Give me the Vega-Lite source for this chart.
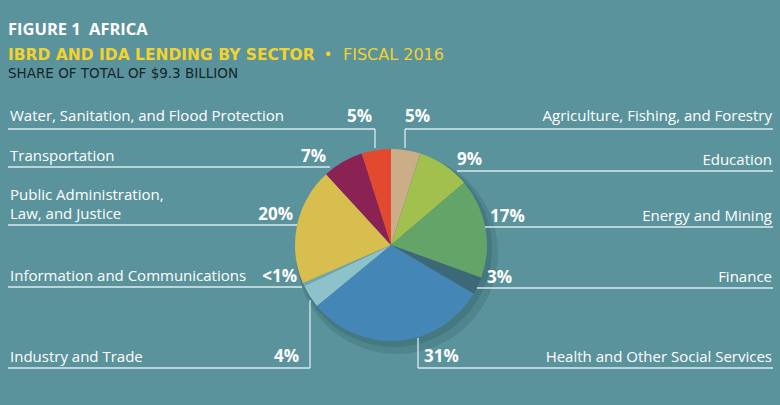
{
  "$schema": "https://vega.github.io/schema/vega-lite/v6.json",
  "width": 780,
  "height": 405,
  "autosize": "none",
  "padding": 0,
  "background": "#5b939c",
  "config": {
    "view": {"stroke": null},
    "axis": {"disable": true},
    "font": "Open Sans",
    "text": {"color": "#ffffff", "baseline": "alphabetic", "font": "Open Sans", "lineBreak": "\n", "lineHeight": 19},
    "rule": {"color": "#d8ebee", "strokeWidth": 1.3}
  },
  "data": {
    "values": [
      {"sector": "Agriculture, Fishing, and Forestry", "share": 5, "pct": "5%"},
      {"sector": "Education", "share": 9, "pct": "9%"},
      {"sector": "Energy and Mining", "share": 17, "pct": "17%"},
      {"sector": "Finance", "share": 3, "pct": "3%"},
      {"sector": "Health and Other Social Services", "share": 31, "pct": "31%"},
      {"sector": "Industry and Trade", "share": 4, "pct": "4%"},
      {"sector": "Information and Communications", "share": 0.5, "pct": "<1%"},
      {"sector": "Public Administration,\nLaw, and Justice", "share": 20, "pct": "20%"},
      {"sector": "Transportation", "share": 7, "pct": "7%"},
      {"sector": "Water, Sanitation, and Flood Protection", "share": 5, "pct": "5%"}
    ]
  },
  "layer": [
    {
      "transform": [{"aggregate": [{"op": "sum", "field": "share", "as": "total"}]}],
      "mark": {"type": "arc", "outerRadius": 101, "color": "#1d4750", "opacity": 0.18, "xOffset": 6, "yOffset": 8},
      "encoding": {
        "x": {"datum": 391, "type": "quantitative", "scale": {"domain": [0, 780], "range": [0, 780], "nice": false, "zero": false}, "axis": null},
        "y": {"datum": 245, "type": "quantitative", "scale": {"domain": [0, 405], "range": [0, 405], "nice": false, "zero": false}, "axis": null}
      }
    },
    {
      "transform": [{"aggregate": [{"op": "sum", "field": "share", "as": "total"}]}],
      "mark": {"type": "arc", "outerRadius": 98, "color": "#1d4750", "opacity": 0.2, "xOffset": 3, "yOffset": 4},
      "encoding": {"x": {"datum": 391}, "y": {"datum": 245}}
    },
    {
      "mark": {"type": "arc", "outerRadius": 96},
      "encoding": {
        "x": {"datum": 391},
        "y": {"datum": 245},
        "theta": {"field": "share", "type": "quantitative"},
        "order": {"field": "sector", "type": "nominal", "sort": "ascending"},
        "color": {
          "field": "sector",
          "type": "nominal",
          "legend": null,
          "scale": {
            "domain": ["Agriculture, Fishing, and Forestry", "Education", "Energy and Mining", "Finance", "Health and Other Social Services", "Industry and Trade", "Information and Communications", "Public Administration,\nLaw, and Justice", "Transportation", "Water, Sanitation, and Flood Protection"],
            "range": ["#cbad88", "#a2c04e", "#63a468", "#3c6877", "#4487b7", "#8ec2ca", "#6fa7b4", "#d8be4e", "#8a2254", "#e3492f"]
          }
        }
      }
    },
    {
      "data": {"values": [{"heading": "FIGURE 1\u2002AFRICA"}]},
      "mark": {"type": "text", "align": "left", "fontSize": 16.5, "fontWeight": "bold"},
      "encoding": {"x": {"datum": 8}, "y": {"datum": 35}, "text": {"field": "heading"}}
    },
    {
      "data": {"values": [{"heading": "IBRD AND IDA LENDING BY SECTOR"}]},
      "mark": {"type": "text", "align": "left", "fontSize": 15.5, "fontWeight": "bold", "font": "DejaVu Sans", "color": "#f2d22e"},
      "encoding": {"x": {"datum": 8}, "y": {"datum": 60}, "text": {"field": "heading"}}
    },
    {
      "data": {"values": [{"heading": "\u2022"}]},
      "mark": {"type": "text", "align": "center", "fontSize": 15, "fontWeight": "bold", "color": "#f2d22e"},
      "encoding": {"x": {"datum": 328}, "y": {"datum": 59}, "text": {"field": "heading"}}
    },
    {
      "data": {"values": [{"heading": "FISCAL 2016"}]},
      "mark": {"type": "text", "align": "left", "fontSize": 16, "font": "DejaVu Sans", "color": "#f2d22e"},
      "encoding": {"x": {"datum": 343}, "y": {"datum": 60}, "text": {"field": "heading"}}
    },
    {
      "data": {"values": [{"heading": "SHARE OF TOTAL OF $9.3 BILLION"}]},
      "mark": {"type": "text", "align": "left", "fontSize": 13.5, "font": "DejaVu Sans", "color": "#13252b"},
      "encoding": {"x": {"datum": 8}, "y": {"datum": 78}, "text": {"field": "heading"}}
    },
    {
      "transform": [{"filter": {"field": "sector", "equal": "Water, Sanitation, and Flood Protection"}}],
      "layer": [
        {"mark": "rule", "encoding": {"x": {"datum": 8}, "x2": {"datum": 375}, "y": {"datum": 129}}},
        {"mark": "rule", "encoding": {"x": {"datum": 375}, "y": {"datum": 129}, "y2": {"datum": 148}}},
        {"mark": {"type": "text", "align": "left", "fontSize": 15}, "encoding": {"x": {"datum": 10}, "y": {"datum": 121}, "text": {"field": "sector"}}},
        {"mark": {"type": "text", "align": "right", "fontSize": 17, "fontWeight": "bold"}, "encoding": {"x": {"datum": 372}, "y": {"datum": 122}, "text": {"field": "pct"}}}
      ]
    },
    {
      "transform": [{"filter": {"field": "sector", "equal": "Transportation"}}],
      "layer": [
        {"mark": "rule", "encoding": {"x": {"datum": 8}, "x2": {"datum": 330}, "y": {"datum": 167}}},
        {"mark": {"type": "text", "align": "left", "fontSize": 15}, "encoding": {"x": {"datum": 10}, "y": {"datum": 161}, "text": {"field": "sector"}}},
        {"mark": {"type": "text", "align": "right", "fontSize": 17, "fontWeight": "bold"}, "encoding": {"x": {"datum": 326}, "y": {"datum": 162}, "text": {"field": "pct"}}}
      ]
    },
    {
      "transform": [{"filter": {"field": "pct", "equal": "20%"}}],
      "layer": [
        {"mark": "rule", "encoding": {"x": {"datum": 8}, "x2": {"datum": 297}, "y": {"datum": 225}}},
        {"mark": {"type": "text", "align": "left", "fontSize": 15}, "encoding": {"x": {"datum": 10}, "y": {"datum": 200}, "text": {"field": "sector"}}},
        {"mark": {"type": "text", "align": "right", "fontSize": 17, "fontWeight": "bold"}, "encoding": {"x": {"datum": 293}, "y": {"datum": 220}, "text": {"field": "pct"}}}
      ]
    },
    {
      "transform": [{"filter": {"field": "sector", "equal": "Information and Communications"}}],
      "layer": [
        {"mark": "rule", "encoding": {"x": {"datum": 8}, "x2": {"datum": 302}, "y": {"datum": 287}}},
        {"mark": {"type": "text", "align": "left", "fontSize": 15}, "encoding": {"x": {"datum": 10}, "y": {"datum": 281}, "text": {"field": "sector"}}},
        {"mark": {"type": "text", "align": "right", "fontSize": 17, "fontWeight": "bold"}, "encoding": {"x": {"datum": 297}, "y": {"datum": 282}, "text": {"field": "pct"}}}
      ]
    },
    {
      "transform": [{"filter": {"field": "sector", "equal": "Industry and Trade"}}],
      "layer": [
        {"mark": "rule", "encoding": {"x": {"datum": 8}, "x2": {"datum": 310}, "y": {"datum": 368}}},
        {"mark": "rule", "encoding": {"x": {"datum": 310}, "y": {"datum": 300}, "y2": {"datum": 368}}},
        {"mark": {"type": "text", "align": "left", "fontSize": 15}, "encoding": {"x": {"datum": 10}, "y": {"datum": 362}, "text": {"field": "sector"}}},
        {"mark": {"type": "text", "align": "right", "fontSize": 17, "fontWeight": "bold"}, "encoding": {"x": {"datum": 299}, "y": {"datum": 362}, "text": {"field": "pct"}}}
      ]
    },
    {
      "transform": [{"filter": {"field": "sector", "equal": "Agriculture, Fishing, and Forestry"}}],
      "layer": [
        {"mark": "rule", "encoding": {"x": {"datum": 405}, "x2": {"datum": 773}, "y": {"datum": 129}}},
        {"mark": "rule", "encoding": {"x": {"datum": 405}, "y": {"datum": 129}, "y2": {"datum": 148}}},
        {"mark": {"type": "text", "align": "right", "fontSize": 15}, "encoding": {"x": {"datum": 772}, "y": {"datum": 121}, "text": {"field": "sector"}}},
        {"mark": {"type": "text", "align": "left", "fontSize": 17, "fontWeight": "bold"}, "encoding": {"x": {"datum": 405}, "y": {"datum": 122}, "text": {"field": "pct"}}}
      ]
    },
    {
      "transform": [{"filter": {"field": "sector", "equal": "Education"}}],
      "layer": [
        {"mark": "rule", "encoding": {"x": {"datum": 457}, "x2": {"datum": 773}, "y": {"datum": 171}}},
        {"mark": {"type": "text", "align": "right", "fontSize": 15}, "encoding": {"x": {"datum": 772}, "y": {"datum": 165}, "text": {"field": "sector"}}},
        {"mark": {"type": "text", "align": "left", "fontSize": 17, "fontWeight": "bold"}, "encoding": {"x": {"datum": 457}, "y": {"datum": 165}, "text": {"field": "pct"}}}
      ]
    },
    {
      "transform": [{"filter": {"field": "sector", "equal": "Energy and Mining"}}],
      "layer": [
        {"mark": "rule", "encoding": {"x": {"datum": 485}, "x2": {"datum": 773}, "y": {"datum": 227}}},
        {"mark": {"type": "text", "align": "right", "fontSize": 15}, "encoding": {"x": {"datum": 772}, "y": {"datum": 221}, "text": {"field": "sector"}}},
        {"mark": {"type": "text", "align": "left", "fontSize": 17, "fontWeight": "bold"}, "encoding": {"x": {"datum": 490}, "y": {"datum": 222}, "text": {"field": "pct"}}}
      ]
    },
    {
      "transform": [{"filter": {"field": "sector", "equal": "Finance"}}],
      "layer": [
        {"mark": "rule", "encoding": {"x": {"datum": 477}, "x2": {"datum": 773}, "y": {"datum": 288}}},
        {"mark": {"type": "text", "align": "right", "fontSize": 15}, "encoding": {"x": {"datum": 772}, "y": {"datum": 282}, "text": {"field": "sector"}}},
        {"mark": {"type": "text", "align": "left", "fontSize": 17, "fontWeight": "bold"}, "encoding": {"x": {"datum": 487}, "y": {"datum": 283}, "text": {"field": "pct"}}}
      ]
    },
    {
      "transform": [{"filter": {"field": "sector", "equal": "Health and Other Social Services"}}],
      "layer": [
        {"mark": "rule", "encoding": {"x": {"datum": 418}, "x2": {"datum": 773}, "y": {"datum": 368}}},
        {"mark": "rule", "encoding": {"x": {"datum": 418}, "y": {"datum": 338}, "y2": {"datum": 368}}},
        {"mark": {"type": "text", "align": "right", "fontSize": 15}, "encoding": {"x": {"datum": 772}, "y": {"datum": 362}, "text": {"field": "sector"}}},
        {"mark": {"type": "text", "align": "left", "fontSize": 17, "fontWeight": "bold"}, "encoding": {"x": {"datum": 424}, "y": {"datum": 362}, "text": {"field": "pct"}}}
      ]
    }
  ]
}
